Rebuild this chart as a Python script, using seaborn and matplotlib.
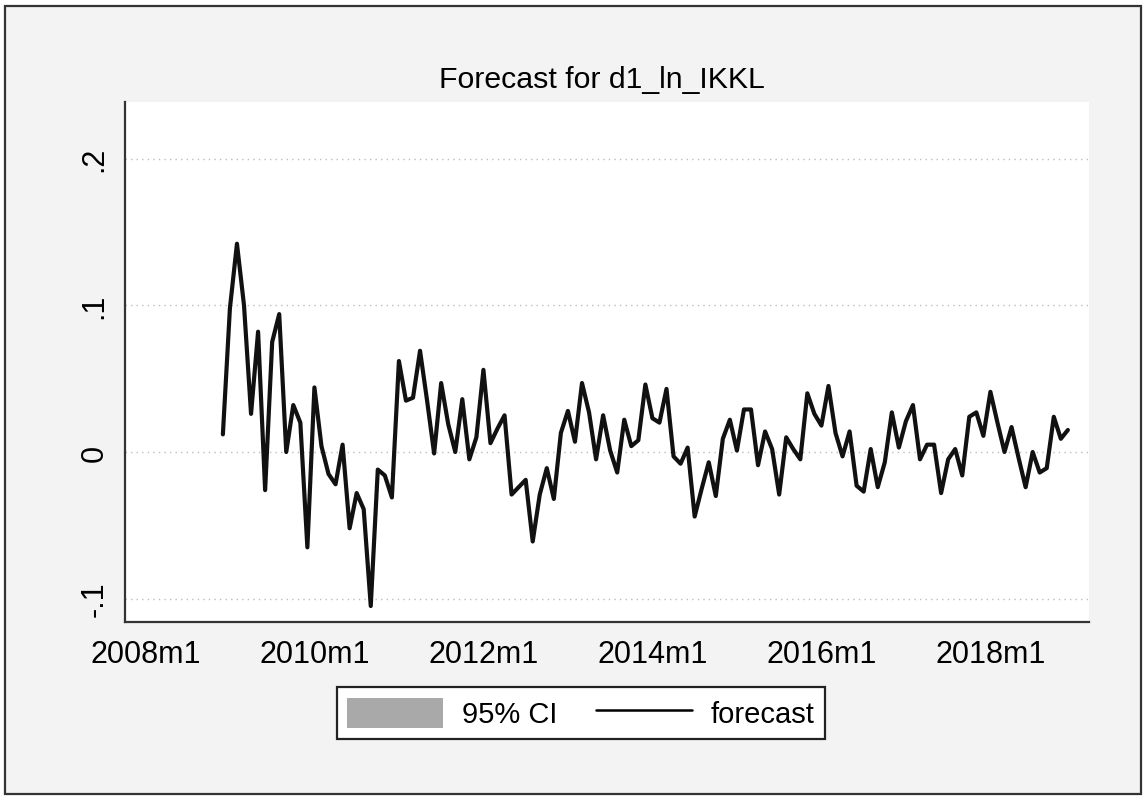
import numpy as np
import pandas as pd
import matplotlib
matplotlib.use("Agg")
import matplotlib.pyplot as plt
import seaborn as sns
from matplotlib.patches import Patch, Rectangle
from matplotlib.lines import Line2D

# forecast of d1_ln_IKKL, monthly from 2008m12 to 2018m12
forecast = [
    0.012, 0.098, 0.142, 0.100, 0.026, 0.082, -0.026, 0.075, 0.094, 0.000,
    0.032, 0.020, -0.065, 0.044, 0.004, -0.015, -0.022, 0.005, -0.052, -0.028,
    -0.039, -0.105, -0.012, -0.016, -0.031, 0.062, 0.035, 0.037, 0.069, 0.035,
    -0.001, 0.047, 0.019, 0.000, 0.036, -0.005, 0.010, 0.056, 0.006, 0.016,
    0.025, -0.029, -0.024, -0.019, -0.061, -0.029, -0.011, -0.032, 0.013, 0.028,
    0.007, 0.047, 0.027, -0.005, 0.025, 0.001, -0.014, 0.022, 0.004, 0.008,
    0.046, 0.023, 0.020, 0.043, -0.003, -0.008, 0.003, -0.044, -0.025, -0.007,
    -0.030, 0.009, 0.022, 0.001, 0.029, 0.029, -0.009, 0.014, 0.002, -0.029,
    0.010, 0.002, -0.005, 0.040, 0.026, 0.018, 0.045, 0.013, -0.003, 0.014,
    -0.023, -0.027, 0.002, -0.024, -0.007, 0.027, 0.003, 0.021, 0.032, -0.005,
    0.005, 0.005, -0.028, -0.005, 0.002, -0.016, 0.024, 0.027, 0.011, 0.041,
    0.020, 0.000, 0.017, -0.004, -0.024, 0.000, -0.014, -0.011, 0.024, 0.009,
    0.015,
]
first_month = 11  # months after 2008m1 -> 2008m12
x_ticks = [0, 24, 48, 72, 96, 120]
x_labels = ["2008m1", "2010m1", "2012m1", "2014m1", "2016m1", "2018m1"]
y_ticks = [-0.1, 0, 0.1, 0.2]
y_labels = ["-.1", "0", ".1", ".2"]

df = pd.DataFrame({
    "month": first_month + np.arange(len(forecast)),
    "forecast": forecast,
})

sns.set_style("white")
plt.rcParams["font.family"] = ["Liberation Sans", "DejaVu Sans"]
plt.rcParams["text.color"] = "black"

W, H = 1147, 803
fig = plt.figure(figsize=(W / 100, H / 100), dpi=100)
fig.patch.set_facecolor("white")

# outer graph region with frame, kept behind the axes
frame = Rectangle((5 / W, 1 - 795 / H), 1136 / W, 788 / H,
                  transform=fig.transFigure, facecolor="#f3f3f3",
                  edgecolor="#333333", linewidth=1.6, zorder=-10)
fig.add_artist(frame)

ax = fig.add_axes([125 / W, 1 - 623 / H, 964 / W, 520 / H])
ax.set_zorder(2)
ax.set_facecolor("white")

sns.lineplot(data=df, x="month", y="forecast", color="#111111", linewidth=3.0, ax=ax)

ax.set_xlim(-2.9, 134)
ax.set_ylim(-0.1159, 0.2386)
ax.set_xticks(x_ticks)
ax.set_xticklabels(x_labels, fontsize=22)
ax.set_yticks(y_ticks)
ax.set_yticklabels(y_labels, fontsize=22, rotation=90, va="center")
ax.set_xlabel("")
ax.set_ylabel("")

for yv in y_ticks:
    ax.axhline(yv, color="#bdbdbd", linestyle=(0, (1, 3)), linewidth=1, zorder=0)

for side in ["top", "right"]:
    ax.spines[side].set_visible(False)
for side in ["left", "bottom"]:
    ax.spines[side].set_color("#333333")
    ax.spines[side].set_linewidth(1.6)
ax.tick_params(axis="both", direction="out", length=7, width=1.2, color="#333333",
               labelcolor="black")
ax.tick_params(axis="x", pad=5)
ax.tick_params(axis="y", pad=4)

fig.text(602 / W, 1 - 80 / H, "Forecast for d1_ln_IKKL", ha="center", va="center",
         fontsize=21.8, color="black")

handles = [Patch(facecolor="#a9a9a9", edgecolor="none"),
           Line2D([0], [0], color="black", linewidth=1.8)]
leg = fig.legend(handles, ["95% CI", "forecast"], loc="center",
                 bbox_to_anchor=(581 / W, 1 - 714 / H), ncol=2, fontsize=21,
                 frameon=True, fancybox=False, edgecolor="#222222",
                 handlelength=3.3, handleheight=1.2, handletextpad=0.65,
                 columnspacing=1.3, borderpad=0.35)
leg.get_frame().set_linewidth(1.6)
leg.get_frame().set_facecolor("white")
leg.get_frame().set_alpha(1)
for t in leg.get_texts():
    t.set_color("black")

fig.savefig("out.png", dpi=100)
